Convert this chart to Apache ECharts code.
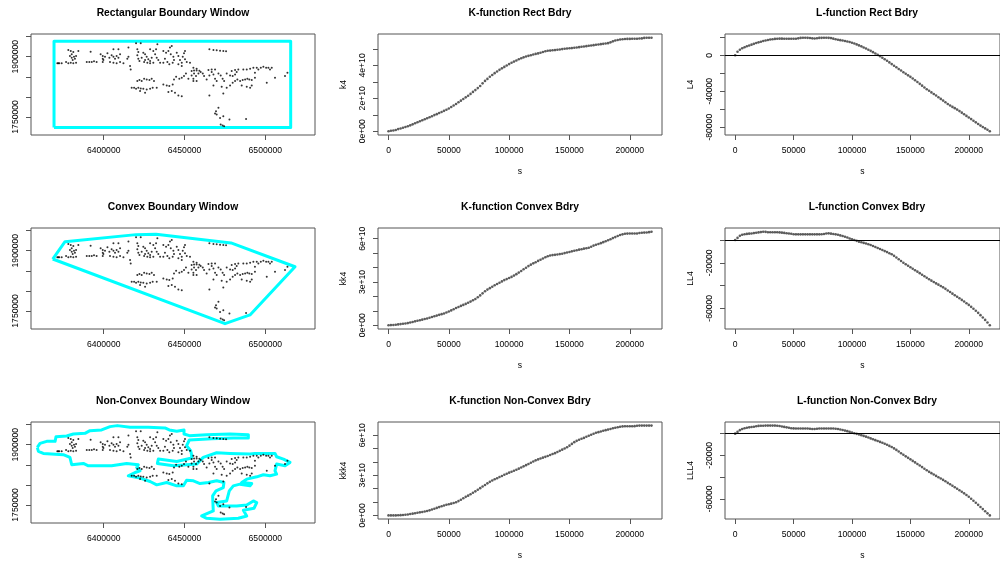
<!DOCTYPE html>
<html>
<head>
<meta charset="utf-8">
<script src="https://cdn.jsdelivr.net/npm/echarts@6/dist/echarts.min.js"></script>
<style>
  html, body { margin: 0; padding: 0; background: #fff; overflow: hidden; }
  #chart { width: 1000px; height: 561px; }
</style>
</head>
<body>
<div id="chart"></div>
<script>
// Distances s at which the K and L functions were evaluated
const S = [0,2000,4000,6000,8000,10000,12000,14000,16000,18000,
  20000,22000,24000,26000,28000,30000,32000,34000,36000,38000,
  40000,42000,44000,46000,48000,50000,52000,54000,56000,58000,
  60000,62000,64000,66000,68000,70000,72000,74000,76000,78000,
  80000,82000,84000,86000,88000,90000,92000,94000,96000,98000,
  100000,102000,104000,106000,108000,110000,112000,114000,116000,118000,
  120000,122000,124000,126000,128000,130000,132000,134000,136000,138000,
  140000,142000,144000,146000,148000,150000,152000,154000,156000,158000,
  160000,162000,164000,166000,168000,170000,172000,174000,176000,178000,
  180000,182000,184000,186000,188000,190000,192000,194000,196000,198000,
  200000,202000,204000,206000,208000,210000,212000,214000,216000,218000];

// K-function estimates (k4, kk4, kkk4)
const K_RECT = [0,0.03e10,0.05e10,0.08e10,0.13e10,0.17e10,0.21e10,0.26e10,0.30e10,0.36e10,
  0.42e10,0.49e10,0.55e10,0.61e10,0.67e10,0.73e10,0.79e10,0.85e10,0.91e10,0.98e10,
  1.04e10,1.11e10,1.17e10,1.24e10,1.31e10,1.38e10,1.47e10,1.56e10,1.66e10,1.76e10,
  1.86e10,1.96e10,2.06e10,2.16e10,2.27e10,2.39e10,2.50e10,2.62e10,2.75e10,2.91e10,
  3.06e10,3.18e10,3.31e10,3.42e10,3.53e10,3.63e10,3.73e10,3.82e10,3.91e10,3.99e10,
  4.08e10,4.16e10,4.23e10,4.30e10,4.37e10,4.43e10,4.49e10,4.54e10,4.58e10,4.62e10,
  4.66e10,4.70e10,4.73e10,4.77e10,4.81e10,4.86e10,4.89e10,4.90e10,4.92e10,4.93e10,
  4.95e10,4.97e10,4.99e10,5.01e10,5.03e10,5.04e10,5.05e10,5.07e10,5.09e10,5.11e10,
  5.13e10,5.15e10,5.17e10,5.19e10,5.21e10,5.23e10,5.25e10,5.27e10,5.29e10,5.31e10,
  5.33e10,5.35e10,5.40e10,5.46e10,5.51e10,5.54e10,5.57e10,5.59e10,5.60e10,5.61e10,
  5.61e10,5.62e10,5.62e10,5.62e10,5.63e10,5.64e10,5.67e10,5.68e10,5.68e10,5.68e10];

const K_CONVEX = [0,0.01e10,0.02e10,0.04e10,0.06e10,0.08e10,0.10e10,0.12e10,0.15e10,0.19e10,
  0.23e10,0.27e10,0.31e10,0.35e10,0.39e10,0.43e10,0.47e10,0.52e10,0.57e10,0.62e10,
  0.67e10,0.72e10,0.77e10,0.82e10,0.88e10,0.95e10,1.03e10,1.11e10,1.20e10,1.27e10,
  1.34e10,1.41e10,1.48e10,1.56e10,1.64e10,1.73e10,1.82e10,1.94e10,2.07e10,2.21e10,
  2.36e10,2.47e10,2.57e10,2.67e10,2.77e10,2.86e10,2.95e10,3.04e10,3.13e10,3.20e10,
  3.27e10,3.35e10,3.44e10,3.54e10,3.65e10,3.76e10,3.88e10,3.99e10,4.10e10,4.20e10,
  4.29e10,4.37e10,4.46e10,4.54e10,4.63e10,4.71e10,4.78e10,4.83e10,4.86e10,4.88e10,
  4.90e10,4.93e10,4.96e10,5.00e10,5.04e10,5.08e10,5.12e10,5.16e10,5.20e10,5.24e10,
  5.27e10,5.31e10,5.34e10,5.37e10,5.44e10,5.52e10,5.58e10,5.63e10,5.69e10,5.76e10,
  5.82e10,5.89e10,5.96e10,6.04e10,6.11e10,6.18e10,6.25e10,6.30e10,6.34e10,6.35e10,
  6.36e10,6.36e10,6.36e10,6.36e10,6.39e10,6.41e10,6.42e10,6.43e10,6.45e10,6.48e10];

const K_NONCONVEX = [0,0,0,0,0.01e10,0.02e10,0.03e10,0.05e10,0.07e10,0.10e10,
  0.13e10,0.16e10,0.20e10,0.23e10,0.26e10,0.29e10,0.33e10,0.38e10,0.44e10,0.50e10,
  0.56e10,0.62e10,0.68e10,0.74e10,0.80e10,0.84e10,0.88e10,0.93e10,0.99e10,1.07e10,
  1.17e10,1.28e10,1.39e10,1.48e10,1.58e10,1.69e10,1.80e10,1.92e10,2.04e10,2.16e10,
  2.28e10,2.40e10,2.51e10,2.61e10,2.70e10,2.78e10,2.87e10,2.95e10,3.04e10,3.12e10,
  3.20e10,3.27e10,3.34e10,3.42e10,3.50e10,3.59e10,3.67e10,3.76e10,3.85e10,3.94e10,
  4.03e10,4.12e10,4.19e10,4.26e10,4.32e10,4.38e10,4.45e10,4.52e10,4.59e10,4.66e10,
  4.74e10,4.83e10,4.92e10,5.01e10,5.10e10,5.22e10,5.35e10,5.48e10,5.58e10,5.66e10,
  5.73e10,5.80e10,5.88e10,5.96e10,6.04e10,6.11e10,6.18e10,6.23e10,6.28e10,6.33e10,
  6.38e10,6.42e10,6.47e10,6.52e10,6.56e10,6.60e10,6.63e10,6.66e10,6.67e10,6.67e10,
  6.67e10,6.67e10,6.68e10,6.71e10,6.72e10,6.72e10,6.72e10,6.72e10,6.72e10,6.72e10];

// L-function estimates (L4, LL4, LLL4)
const L_RECT = [0,4000,6200,7800,9000,10000,10900,11800,12700,13600,
  14400,15100,15800,16500,17000,17500,17900,18200,18400,18500,
  18500,18400,18400,18300,18300,18300,18400,18800,19300,19500,
  19500,19400,19200,18800,18700,19000,19300,19400,19500,19500,
  19400,19100,18500,17900,17300,16800,16400,15900,15400,14700,
  13900,13100,12100,11000,9900,8700,7500,6200,4900,3500,
  2000,500,-1000,-2700,-4400,-6100,-7900,-9800,-11600,-13400,
  -15200,-17000,-18800,-20600,-22300,-24000,-25900,-27800,-29800,-31800,
  -33800,-35800,-37700,-39500,-41300,-43000,-44800,-46700,-48500,-50400,
  -52300,-54200,-55900,-57400,-58800,-60400,-62100,-63800,-65600,-67400,
  -69200,-71000,-72800,-74600,-76400,-78200,-79800,-81300,-82800,-84500];

const L_CONVEX = [0,1900,3700,4700,5100,5400,5600,5800,6100,6400,
  6700,7000,7300,7200,6900,6800,6800,6800,6800,6700,
  6500,6300,6000,5800,5500,5100,5000,5000,5000,5000,
  5000,5000,5000,5000,5000,5000,5000,5100,5300,5700,
  5900,5600,5300,5000,4600,4100,3500,2900,2200,1400,
  700,0,-700,-1400,-2000,-2500,-3000,-3700,-4400,-5200,
  -6100,-7000,-7900,-8800,-9700,-10600,-11600,-12500,-13900,-15400,
  -16900,-18400,-20000,-21300,-22600,-23900,-25200,-26500,-27800,-29100,
  -30500,-31800,-33100,-34400,-35700,-36900,-38100,-39200,-40400,-41600,
  -42900,-44300,-45700,-47100,-48500,-49800,-51200,-52600,-54000,-55500,
  -57000,-58700,-60400,-62200,-64000,-66000,-68100,-70200,-72500,-74900];

const L_NONCONVEX = [0,1600,3200,4200,4900,5400,5800,6100,6400,6800,
  7100,7200,7300,7400,7400,7400,7400,7400,7300,7000,
  6600,6200,5800,5400,5000,4800,4700,4700,4700,4700,
  4700,4700,4500,4200,4200,4500,4700,4700,4700,4700,
  4700,4700,4700,4500,4200,3800,3300,2800,2300,1600,
  1000,400,-200,-800,-1400,-2100,-2800,-3600,-4400,-5200,
  -6000,-6800,-7600,-8400,-9300,-10300,-11300,-12300,-13600,-15000,
  -16500,-18000,-19500,-20900,-22300,-23700,-25100,-26500,-27900,-29400,
  -30800,-32300,-33700,-35200,-36400,-37600,-38900,-40100,-41300,-42600,
  -43900,-45300,-46600,-48000,-49400,-50700,-52100,-53500,-55000,-56500,
  -58100,-59900,-61800,-63700,-65600,-67600,-69500,-71500,-73400,-75300];

// Event locations (easting, northing)
const POINTS = [
  [6378100,1916800],[6379600,1914200],[6381200,1911800],[6380200,1905900],[6384300,1914200],
  [6379100,1901800],[6380200,1897600],[6381600,1900100],[6382900,1901800],[6382200,1895100],[6380800,1891800],
  [6371300,1883400],[6371900,1883400],[6372500,1883400],[6374000,1883400],
  [6376700,1886800],[6378100,1883400],[6379600,1885100],[6381200,1883400],[6382900,1885100],
  [6391900,1912600],
  [6389500,1886800],[6391100,1886800],[6392600,1886800],[6394000,1888400],[6395600,1886800],
  [6398100,1905900],[6399400,1901800],[6399400,1895100],[6399800,1891800],[6399400,1886800],[6400800,1900100],
  [6402300,1908400],[6403500,1897600],[6404900,1903400],[6406000,1900100],[6407000,1895100],[6408000,1901800],[6409100,1897600],[6410100,1905900],
  [6403900,1886800],[6406000,1885100],[6408000,1883400],[6410100,1886800],
  [6406000,1918400],[6409100,1918400],
  [6415300,1922600],[6415300,1900100],[6414600,1895100],[6412200,1883400],[6416700,1868400],[6416300,1876800],
  [6420000,1933400],[6420800,1918400],[6421400,1911800],[6420800,1903400],[6421400,1895100],[6422100,1889300],[6422900,1933400],
  [6424500,1910100],[6425600,1905900],[6426600,1900100],[6427600,1893400],[6428700,1889300],[6425600,1891800],[6427000,1885100],[6429700,1897600],
  [6423500,1897600],[6425000,1886800],[6428700,1883400],[6430700,1885100],[6436900,1885100],
  [6428700,1918400],[6430700,1914200],[6432400,1918400],[6433200,1930900],[6431800,1905900],[6432800,1897600],[6433800,1891800],[6434900,1885100],
  [6436900,1914200],[6438600,1910100],[6440000,1914200],[6441000,1922600],[6442100,1926800],[6441500,1905900],[6443100,1900100],[6443500,1891800],[6442700,1885100],
  [6437900,1895100],[6439400,1886800],[6440600,1880900],
  [6445200,1910100],[6446200,1901800],[6447200,1891800],[6448300,1885100],[6448900,1900100],[6449700,1908400],[6450300,1893400],[6451400,1886800],
  [6446200,1880900],[6448300,1876800],[6450300,1914200],
  [6453400,1885100],[6455500,1872600],[6457500,1870100],
  [6465400,1918400],[6467900,1916800],[6469900,1915900],[6472000,1915100],[6474000,1914200],[6475700,1913400],
  [6420800,1839300],[6422100,1841800],[6423500,1839300],[6425000,1845100],[6426600,1843400],[6428300,1841800],[6429700,1845100],[6431100,1839300],
  [6417300,1822600],[6418800,1822600],[6420000,1820100],[6421400,1822600],[6422900,1820900],[6424500,1820100],[6426600,1818400],[6428700,1820100],[6430300,1822600],[6432800,1822600],
  [6425600,1810100],[6422500,1814300],
  [6436900,1830900],[6439000,1828400],[6440600,1826800],[6442700,1830900],
  [6440000,1811800],[6442100,1814300],[6444100,1810100],[6446200,1803400],[6448300,1801800],
  [6443500,1843400],[6444800,1850100],[6446800,1845100],[6448300,1847600],[6449700,1851800],[6450900,1858400],[6452400,1845100],
  [6454400,1853400],[6455500,1845100],[6457100,1851800],[6458600,1858400],[6460000,1861800],[6461300,1858400],
  [6455500,1839300],[6457500,1839300],
  [6454400,1864300],[6455900,1865900],[6457500,1865900],[6459200,1865100],[6455900,1858400],
  [6464800,1866800],[6466800,1868400],[6468900,1868400],[6479200,1864300],[6481300,1866800],
  [6462100,1851800],[6463700,1843400],[6465400,1853400],[6466800,1861800],[6467900,1855900],[6468900,1845100],[6469900,1839300],[6471000,1858400],[6472400,1853400],[6473600,1845100],[6474500,1839300],
  [6476100,1858400],[6478200,1853400],[6479800,1851800],[6481300,1855900],[6482300,1861800],[6483300,1868400],
  [6465400,1803400],[6467900,1828400],[6473000,1825100],[6474000,1808400],
  [6476100,1822600],[6478200,1828400],[6479800,1835100],[6481300,1839300],[6482700,1843400],[6484400,1839300],[6486000,1841800],[6487500,1843400],[6488900,1845100],[6490100,1843400],
  [6485400,1828400],[6488500,1825100],
  [6486400,1868400],[6488500,1868400],[6490600,1870100],[6492600,1872600],[6494700,1872600],
  [6493600,1860100],[6495700,1868400],[6497200,1872600],[6498800,1875100],[6500500,1872600],[6501900,1872600],[6504000,1872600],[6502900,1868400],
  [6491600,1841800],[6493600,1847600],[6500900,1835100],[6506000,1847600],[6512200,1851800],[6513700,1860100],[6491600,1828400],[6490600,1822600],
  [6471000,1772600],[6469500,1764300],[6468900,1758400],[6469900,1755900],[6472000,1747600],[6474000,1751800],[6477800,1743400],[6488100,1745100],
  [6472400,1730900],[6473600,1728400],[6474500,1726800]
];

// Observation windows (polygon vertices)
const RECT_WINDOW = [[6369250,1723500],[6515700,1723500],[6515700,1938500],[6369250,1938500]];
const CONVEX_WINDOW = [[6368440,1879250],[6376050,1922500],[6419990,1940000],[6432360,1940750],
  [6478770,1919250],[6518380,1860000],[6490530,1740000],[6475060,1718250]];
const NONCONVEX_WINDOW = [
  [6358900,1893300],[6360600,1903300],[6364700,1908300],[6369900,1908300],[6370500,1920000],[6377100,1921700],
  [6381200,1926700],[6388400,1928300],[6391500,1935000],[6398700,1936700],[6403900,1945000],[6408400,1947500],
  [6416300,1943300],[6427600,1943300],[6437900,1941700],[6440600,1936700],[6445200,1933300],[6449700,1936700],
  [6449700,1926700],[6453000,1922500],[6463700,1925000],[6478200,1926700],[6489500,1925000],[6489500,1916700],
  [6480200,1916700],[6466800,1915000],[6453000,1911700],[6451300,1897500],[6453800,1885000],[6454400,1875000],
  [6454400,1866700],[6445200,1858300],[6433800,1864200],[6433200,1853300],[6443100,1847500],[6457500,1851700],
  [6461600,1868300],[6469900,1880000],[6478200,1878300],[6490500,1876700],[6493600,1878300],[6506000,1878300],
  [6507000,1870000],[6511200,1864200],[6515300,1855800],[6512200,1847500],[6507000,1851700],[6506000,1835000],
  [6507000,1826700],[6502900,1822500],[6498800,1825000],[6494700,1820000],[6488500,1814200],[6485400,1805800],
  [6491600,1803300],[6490500,1797500],[6484300,1801700],[6480200,1797500],[6477700,1785000],[6476100,1760000],
  [6469900,1755800],[6470900,1747500],[6482300,1747500],[6488500,1750000],[6492600,1760000],[6494700,1755800],
  [6493000,1741700],[6486400,1736700],[6488500,1722500],[6483300,1716700],[6472000,1714200],[6463700,1716700],
  [6460600,1722500],[6467800,1735000],[6467400,1772500],[6469500,1785000],[6474000,1793300],[6474400,1805800],
  [6469900,1810000],[6464800,1805800],[6459600,1803300],[6455500,1810000],[6451300,1811700],[6449300,1797500],
  [6445200,1797500],[6439000,1805800],[6432800,1800000],[6428700,1808300],[6422500,1816700],[6415200,1822500],
  [6419400,1830800],[6422500,1835000],[6420400,1843300],[6421400,1850000],[6414200,1853300],[6404900,1847500],
  [6390500,1847500],[6387400,1853300],[6380200,1850000],[6379100,1868300],[6375000,1875000],[6362600,1878300],
  [6359600,1883300]
];

// Tick and label positions
const MAP_X_TICKS = [6400000, 6450000, 6500000];
const MAP_Y_TICKS = [1750000, 1800000, 1850000, 1900000, 1950000];
const MAP_Y_LABELS = [1750000, 1900000];
const S_TICKS = [0, 50000, 100000, 150000, 200000];
const K_RECT_TICKS = [0, 1e10, 2e10, 3e10, 4e10, 5e10];
const K_RECT_LABELS = [0, 2e10, 4e10];
const K_TICKS = [0, 1e10, 2e10, 3e10, 4e10, 5e10, 6e10];
const K_LABELS = [0, 3e10, 6e10];
const L_RECT_TICKS = [-80000, -60000, -40000, -20000, 0, 20000];
const L_RECT_LABELS = [-80000, -40000, 0];
const L_TICKS = [-60000, -40000, -20000, 0];
const L_LABELS = [-60000, -20000];

// ---- layout and drawing ----
const COLS = [31, 378, 725];
const ROWS = [34, 228, 422];
const PW = 284, PH = 101;
const FONT = "'Liberation Sans', Arial, Helvetica, sans-serif";
const INK = '#000';
const FRAME = '#555';
const CYAN = '#00ffff';
const MAP_X_RANGE = [6355000, 6530750];
const MAP_Y_RANGE = [1705000, 1956500];

// R-style axis range: data range widened by 4% at each end
function rRange(vals) {
  const lo = Math.min(...vals), hi = Math.max(...vals), d = (hi - lo) * 0.04;
  return [lo - d, hi + d];
}
const sciFmt = v => v === 0 ? '0e+00' : (v / 1e10) + 'e+10';
const plainFmt = v => String(v);

const grids = [], xAxes = [], yAxes = [], series = [], graphics = [];

function makeAxis(gi, o, isY) {
  return {
    type: 'value', gridIndex: gi, min: o.range[0], max: o.range[1],
    axisLine: { show: false, onZero: false },
    splitLine: { show: false },
    axisTick: { show: true, inside: false, length: 5,
      lineStyle: { color: FRAME, width: 1 }, customValues: o.ticks },
    axisLabel: { show: true, customValues: o.labels, formatter: o.fmt,
      fontFamily: FONT, fontSize: 8.6, color: INK, margin: 11,
      rotate: isY ? 90 : 0 },
    name: o.name || '', nameLocation: 'middle', nameGap: isY ? 30 : 32,
    nameRotate: isY ? 90 : 0,
    nameTextStyle: { fontFamily: FONT, fontSize: 8.6, color: INK }
  };
}

function addPanel(col, row, title, xo, yo) {
  const gi = grids.length;
  grids.push({ left: COLS[col], top: ROWS[row], width: PW, height: PH,
    show: true, borderColor: FRAME, borderWidth: 1, backgroundColor: 'transparent' });
  xAxes.push(makeAxis(gi, xo, false));
  yAxes.push(makeAxis(gi, yo, true));
  graphics.push({ type: 'text', x: COLS[col] + PW / 2, y: ROWS[row] - 20.5, silent: true,
    style: { text: title, fontFamily: FONT, fontSize: 10.3, fontWeight: 'bold', fill: INK,
      textAlign: 'center', textVerticalAlign: 'middle', align: 'center', verticalAlign: 'middle' } });
  return gi;
}

function mapPanel(row, title, win) {
  const gi = addPanel(0, row, title,
    { range: MAP_X_RANGE, ticks: MAP_X_TICKS, labels: MAP_X_TICKS, fmt: plainFmt },
    { range: MAP_Y_RANGE, ticks: MAP_Y_TICKS, labels: MAP_Y_LABELS, fmt: plainFmt });
  series.push({ type: 'line', xAxisIndex: gi, yAxisIndex: gi, silent: true, z: 2,
    data: win.concat([win[0]]), symbol: 'none', smooth: false,
    lineStyle: { color: CYAN, width: 3, join: 'round' } });
  series.push({ type: 'scatter', xAxisIndex: gi, yAxisIndex: gi, silent: true, z: 3,
    data: POINTS, symbol: 'circle', symbolSize: 2, itemStyle: { color: '#000' } });
}

function curvePanel(col, row, title, yName, vals, yTicks, yLabels, yFmt, zeroLine) {
  const gi = addPanel(col, row, title,
    { range: rRange(S), ticks: S_TICKS, labels: S_TICKS, fmt: plainFmt, name: 's' },
    { range: rRange(vals), ticks: yTicks, labels: yLabels, fmt: yFmt, name: yName });
  const s = { type: 'scatter', xAxisIndex: gi, yAxisIndex: gi, silent: true, z: 3,
    data: S.map((x, j) => [x, vals[j]]), symbol: 'circle', symbolSize: 2.6,
    itemStyle: { color: '#333' } };
  if (zeroLine) {
    s.markLine = { silent: true, symbol: ['none', 'none'], label: { show: false },
      lineStyle: { color: '#000', width: 1, type: 'solid' }, data: [{ yAxis: 0 }] };
  }
  series.push(s);
}

mapPanel(0, 'Rectangular Boundary Window', RECT_WINDOW);
curvePanel(1, 0, 'K-function Rect Bdry', 'k4', K_RECT, K_RECT_TICKS, K_RECT_LABELS, sciFmt, false);
curvePanel(2, 0, 'L-function Rect Bdry', 'L4', L_RECT, L_RECT_TICKS, L_RECT_LABELS, plainFmt, true);
mapPanel(1, 'Convex Boundary Window', CONVEX_WINDOW);
curvePanel(1, 1, 'K-function Convex Bdry', 'kk4', K_CONVEX, K_TICKS, K_LABELS, sciFmt, false);
curvePanel(2, 1, 'L-function Convex Bdry', 'LL4', L_CONVEX, L_TICKS, L_LABELS, plainFmt, true);
mapPanel(2, 'Non-Convex Boundary Window', NONCONVEX_WINDOW);
curvePanel(1, 2, 'K-function Non-Convex Bdry', 'kkk4', K_NONCONVEX, K_TICKS, K_LABELS, sciFmt, false);
curvePanel(2, 2, 'L-function Non-Convex Bdry', 'LLL4', L_NONCONVEX, L_TICKS, L_LABELS, plainFmt, true);

const chart = echarts.init(document.getElementById('chart'), null, { renderer: 'canvas' });
chart.setOption({
  animation: false,
  backgroundColor: '#fff',
  grid: grids,
  xAxis: xAxes,
  yAxis: yAxes,
  series: series,
  graphic: graphics
});
</script>
</body>
</html>
